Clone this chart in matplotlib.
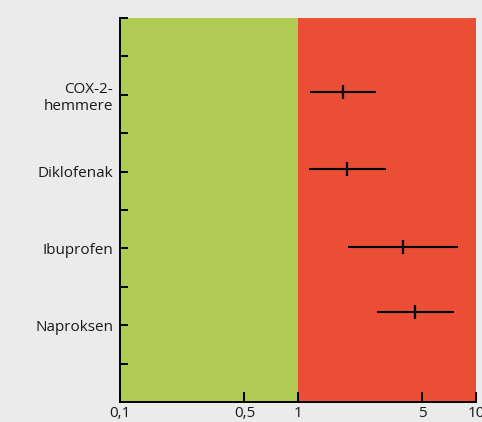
import matplotlib
matplotlib.use("Agg")
import matplotlib.pyplot as plt

categories = ["COX-2-\nhemmere", "Diklofenak", "Ibuprofen", "Naproksen"]
cat_pos = [8, 6, 4, 2]
bar_pos = [8.07, 6.08, 4.04, 2.34]
estimate = [1.78, 1.88, 3.87, 4.56]
lower = [1.17, 1.15, 1.91, 2.78]
upper = [2.73, 3.11, 7.89, 7.50]
xticks = [0.1, 0.5, 1, 5, 10]
xtick_labels = ["0,1", "0,5", "1", "5", "10"]

bg = "#EBEBEB"
plt.rcParams['font.family'] = ['Open Sans', 'DejaVu Sans']

fig = plt.figure(figsize=(4.82, 4.22), dpi=100, facecolor=bg)
ax = fig.add_axes([120/482, 1 - 402/422, (476 - 120)/482, (402 - 18)/422])
ax.set_facecolor(bg)
ax.set_xscale("log")
ax.set_xlim(0.1, 10)
ax.set_ylim(0, 10)

ax.axvspan(0.1, 1, color="#AFCB53", lw=0, zorder=0)
ax.axvspan(1, 10, color="#EA4E35", lw=0, zorder=0)

for y, e, lo, hi in zip(bar_pos, estimate, lower, upper):
    ax.plot([lo, hi], [y, y], color="black", lw=1.5, solid_capstyle="butt", zorder=3)
    ax.plot([e], [y], marker="|", markersize=10, markeredgewidth=1.6, color="black", zorder=4)

ax.set_xticks(xticks)
ax.set_xticklabels(xtick_labels)
ax.xaxis.set_minor_locator(matplotlib.ticker.NullLocator())
ax.tick_params(axis="x", direction="in", length=7.5, width=1.4, pad=3, labelsize=11, colors="black", labelcolor="#1a1a1a")

ax.set_yticks(range(0, 11))
labels = [""] * 11
for c, p in zip(categories, cat_pos):
    labels[p] = c
ax.set_yticklabels(labels, ha="right", multialignment="right")
ax.tick_params(axis="y", direction="in", length=6, width=1.4, pad=5, labelsize=11, colors="black", labelcolor="#1a1a1a")

for s in ["top", "right"]:
    ax.spines[s].set_visible(False)
for s in ["left", "bottom"]:
    ax.spines[s].set_linewidth(1.4)
    ax.spines[s].set_color("black")

fig.savefig("out.png", dpi=100, facecolor=bg)
